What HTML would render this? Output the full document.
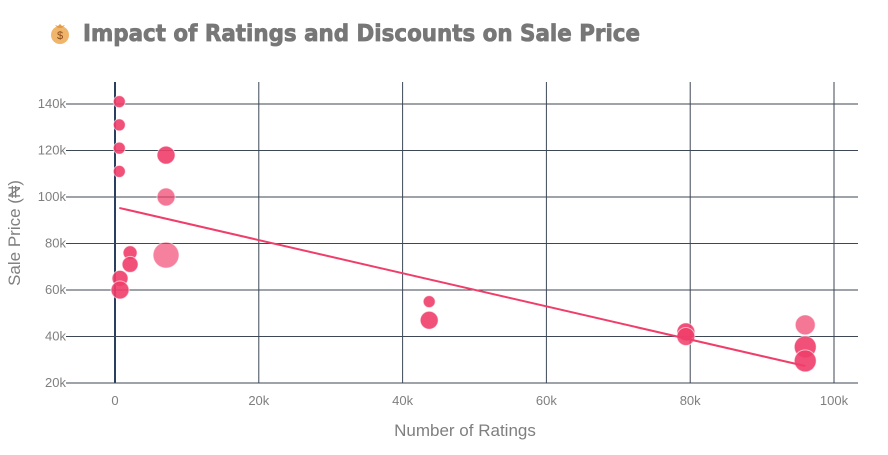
<!DOCTYPE html>
<html><head><meta charset="utf-8"><style>
body{margin:0;background:#fff;font-family:"Liberation Sans",sans-serif;}
#wrap{position:relative;width:888px;height:450px;}
</style></head><body>
<div id="wrap">
<svg id="svg" width="888" height="450" xmlns="http://www.w3.org/2000/svg">
<g>
<circle cx="60" cy="35" r="9" fill="#f0b46a"/><path d="M55 25 L58 28 L62 28 L65 25 L62 26 L60 24 L58 26Z" fill="#e39b49"/>
<text x="60" y="39" font-size="11" fill="#8a4b1c" text-anchor="middle">$</text>
<text x="83" y="41" font-size="23" font-weight="900" fill="#777" stroke="#777" stroke-width="0.8" textLength="557" lengthAdjust="spacingAndGlyphs" font-family="'DejaVu Sans','Liberation Sans',sans-serif">Impact of Ratings and Discounts on Sale Price</text>
</g>
<g id="grid"></g><g id="marks"></g><g id="labels"></g>
<text x="465" y="436" font-size="17" fill="#7f7f7f" text-anchor="middle">Number of Ratings</text>
<text transform="translate(20,233) rotate(-90)" font-size="17" fill="#7f7f7f" text-anchor="middle">Sale Price (₦)</text>
</svg></div>
<script>
const ratings=[0.6,0.6,0.6,0.6,7.1,7.1,7.1,2.1,2.1,0.7,0.7,43.7,43.7,79.4,79.4,96,96,96];
const prices=[141,131,121,111,118,100,75,76,71,65,60,55,47,42,40,45,35.5,29.5];
const sizes=[6,6,6,6,9,9,13,7,8,8,9,6,9,9,9,10,11,11];
const alphas=[.9,.9,.9,.9,.9,.7,.65,.9,.9,.9,.9,.9,.9,.9,.85,.7,.9,.9];
const trendX=[0.6,96];
const trendY=[95.3,27.3];
const xTicks=[0,20,40,60,80,100];
const yTicks=[20,40,60,80,100,120,140];
const X=v=>115+v*7.19, Y=v=>383-(v-20)*2.325;
const NS="http://www.w3.org/2000/svg";
function mk(t,a,p){const e=document.createElementNS(NS,t);for(const k in a)e.setAttribute(k,a[k]);p.appendChild(e);return e;}
const g=document.getElementById('grid'),m=document.getElementById('marks'),l=document.getElementById('labels');
xTicks.forEach(v=>{const ln=mk('line',{x1:X(v),x2:X(v),y1:82,y2:383,stroke:v===0?'#2a3f5f':'#3d4756','stroke-width':v===0?2:1},g);

const t=mk('text',{x:X(v),y:405,'font-size':13,fill:'#7f7f7f','text-anchor':'middle'},l);t.textContent=v===0?'0':v+'k';
});
yTicks.forEach(v=>{const ln=mk('line',{x1:72,x2:858,y1:Y(v),y2:Y(v),stroke:'#3d4756','stroke-width':1},g);

mk('line',{x1:66,x2:72,y1:Y(v),y2:Y(v),stroke:'#3d4756'},g);
const t=mk('text',{x:66,y:Y(v)+4,'font-size':13,fill:'#7f7f7f','text-anchor':'end'},l);t.textContent=v+'k';
});
ratings.forEach((r,i)=>{const c=mk('circle',{cx:X(r),cy:Y(prices[i]),r:sizes[i],fill:'#ef3e6a','fill-opacity':alphas[i],stroke:'#fff','stroke-opacity':.6,'stroke-width':1},m);
});
const tl=mk('line',{x1:X(trendX[0]),y1:Y(trendY[0]),x2:X(trendX[1]),y2:Y(trendY[1]),stroke:'#ef3e6a','stroke-width':2},m);

</script>
</body></html>
